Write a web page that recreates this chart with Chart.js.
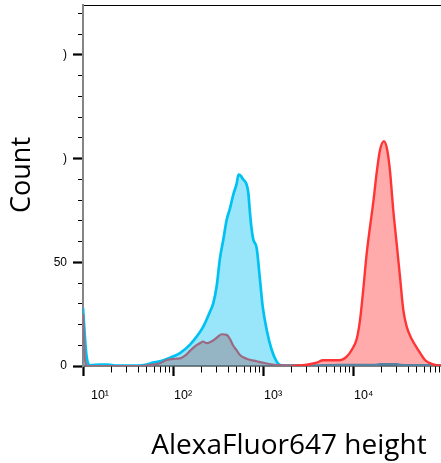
<!DOCTYPE html>
<html><head><meta charset="utf-8">
<script src="https://cdn.jsdelivr.net/npm/chart.js@4.4.0/dist/chart.umd.min.js"></script>
<style>
html,body{margin:0;padding:0;background:#fff;overflow:hidden;width:441px;height:463px}
#wrap{position:absolute;left:0;top:0;width:495px;height:463px}
</style>
</head><body><div id="wrap"><canvas id="c" width="495" height="463"></canvas></div>
<script>
// ---- data (AlexaFluor647 height vs count) ----
const cyanX = [9.75, 10.6, 11.6, 15.1, 18.5, 22.1, 39.8, 49.8, 58.4, 69.9, 90.3, 116.6, 150.6, 178.6, 211.7, 251.2, 273.5, 297.8, 324.5, 353.2, 385.2, 419, 456, 498, 521, 541, 589, 642, 670, 699, 730, 761, 829, 903, 968, 1072, 1219, 1384, 1506, 1711, 3246, 6984, 17000, 19440, 30050, 33000, 41880, 368900];
const cyanCount = [28, 6, 0.3, 0.7, 0.7, 0.2, 0.2, 0.7, 1.6, 2.3, 4, 6.2, 10.3, 14.2, 19, 26.2, 30.3, 38.3, 52, 60.9, 70.5, 76, 82.6, 88, 92.3, 92, 89.9, 87.4, 83.4, 73.7, 65.7, 60.9, 56.9, 41.5, 28.6, 17.4, 7.7, 2.1, 0.5, 0.2, 0.2, 0.4, 0.4, 0.8, 0.8, 0.4, 0.3, 0.3];

const greyX = [9.75, 10.26, 11.08, 41.9, 54.1, 69.9, 83, 102.6, 116.6, 132.5, 150.6, 171.1, 194.3, 209.9, 230.7, 251.2, 285.5, 308.2, 338.8, 385.2, 419, 452.5, 498, 541, 642, 829, 1072, 1506, 2512, 3246];
const greyCount = [25, 3, 0, 0, 0.5, 1.3, 2.9, 3.5, 3.7, 5, 7.3, 9.5, 11, 11.8, 11, 11.4, 12.9, 14.2, 15.3, 15, 13, 10, 7.5, 5.3, 3.5, 2.3, 1.2, 0.4, 0.3, 0];

const redX = [2047, 2979, 3853, 4562, 6984, 8300, 9425, 10717, 11660, 12690, 13830, 15060, 16390, 17850, 19440, 21540, 23440, 25120, 27340, 29810, 32460, 35320, 38520, 43760, 51790, 61490, 72940, 86500, 368900];
const redCount = [0, 0.6, 1.6, 2.8, 2.8, 4.5, 7.7, 13, 22, 37, 54, 67, 79, 93, 104, 108.4, 104, 94, 75, 59, 43, 27, 19, 13, 7.7, 2.9, 1, 0.3, 0];

// ---- axes ----
const xMajorTicks = [10, 100, 1000, 10000, 100000];
const xTickLabels = ['  10¹', '10²', '10³', '10⁴', '10⁵'];
const xMinorMultipliers = [2, 3, 4, 5, 6, 7, 8, 9];
const yTickValues = [0, 10, 20, 30, 40, 50, 60, 70, 80, 90, 100, 110, 120, 130, 140, 150, 160, 170];
const yMajorTicks = [0, 50, 100, 150];
const yTickLabels = ['0', '50', ')', ')'];
const xRange = [9.75, 368900];
const yRange = [0, 174];

const xTickValues = [];
xMajorTicks.forEach(d => { xTickValues.push(d); xMinorMultipliers.forEach(m => xTickValues.push(d * m)); });
const xTicksInRange = xTickValues.filter(v => v >= xRange[0] && v <= xRange[1]).sort((a,b)=>a-b);

const toPts = (xs, ys) => xs.map((x, i) => ({x, y: ys[i]}));
const isXMajor = ctx => ctx.tick && xMajorTicks.includes(ctx.tick.value);
const isYMajor = ctx => ctx.tick && yMajorTicks.includes(ctx.tick.value);

new Chart(document.getElementById('c'), {
  type: 'line',
  data: {
    datasets: [
      { label: 'red', data: toPts(redX, redCount), borderColor: '#ff3535', backgroundColor: 'rgba(255,0,0,0.33)', fill: 'origin', borderWidth: 2.4, pointRadius: 0, cubicInterpolationMode: 'monotone', order: 1 },
      { label: 'grey', data: toPts(greyX, greyCount), borderColor: '#9b6a82', backgroundColor: 'rgba(148,150,160,0.6)', fill: 'origin', borderWidth: 2.2, pointRadius: 0, cubicInterpolationMode: 'monotone', order: 2 },
      { label: 'cyan', data: toPts(cyanX, cyanCount), borderColor: '#00c2f2', backgroundColor: 'rgba(0,192,245,0.4)', fill: 'origin', borderWidth: 2.7, pointRadius: 0, cubicInterpolationMode: 'monotone', order: 3 }
    ]
  },
  options: {
    responsive: false,
    animation: false,
    devicePixelRatio: 1,
    layout: { padding: 0 },
    plugins: { legend: { display: false }, tooltip: { enabled: false } },
    scales: {
      x: {
        type: 'logarithmic', position: 'bottom', min: xRange[0], max: xRange[1],
        afterBuildTicks: s => { s.ticks = xTicksInRange.map(v => ({value: v})); },
        afterFit: s => { s.height = 97; s.paddingLeft = 0; s.paddingRight = 0; },
        border: { display: true, color: '#000', width: 1.5 },
        grid: {
          drawOnChartArea: false, drawTicks: true, tickLength: 10, tickColor: '#000',
          tickWidth: ctx => isXMajor(ctx) ? 2.2 : 1,
          tickBorderDash: ctx => isXMajor(ctx) ? [] : [6, 50]
        },
        ticks: {
          autoSkip: false, maxRotation: 0, minRotation: 0, align: 'start', padding: 12, color: '#000',
          font: { family: 'Liberation Sans, Arial, DejaVu Sans', size: 12.5 },
          callback: v => { const k = xMajorTicks.indexOf(v); return k >= 0 ? xTickLabels[k] : ''; }
        },
        title: { display: true, text: 'AlexaFluor647 height', color: '#000', font: { family: 'Open Sans', size: 28 }, padding: { top: 0, bottom: 0 } }
      },
      xTop: {
        type: 'logarithmic', position: 'top', min: xRange[0], max: xRange[1],
        afterFit: s => { s.height = 5; s.paddingLeft = 0; s.paddingRight = 0; },
        border: { display: true, color: '#000', width: 1 },
        grid: { drawOnChartArea: false, drawTicks: false },
        ticks: { display: false }
      },
      y: {
        type: 'linear', position: 'left', min: yRange[0], max: yRange[1],
        afterBuildTicks: s => { s.ticks = yTickValues.map(v => ({value: v})); },
        afterFit: s => { s.width = 83; s.paddingTop = 0; s.paddingBottom = 0; },
        border: { display: true, color: '#858585', width: 2 },
        grid: {
          drawOnChartArea: false, drawTicks: true, tickLength: 10, tickColor: '#000',
          tickWidth: ctx => isYMajor(ctx) ? 2.2 : 1,
          tickBorderDash: ctx => isYMajor(ctx) ? [] : [0, 5, 5, 0]
        },
        ticks: {
          autoSkip: false, padding: 6, color: '#000',
          font: { family: 'Liberation Sans, Arial, DejaVu Sans', size: 12 },
          callback: v => { const k = yMajorTicks.indexOf(v); return k >= 0 ? yTickLabels[k] : ''; }
        },
        title: { display: true, text: '   Count', color: '#000', font: { family: 'Open Sans', size: 27 }, padding: { top: 6, bottom: 0 } }
      }
    }
  }
});
</script>
</body></html>
